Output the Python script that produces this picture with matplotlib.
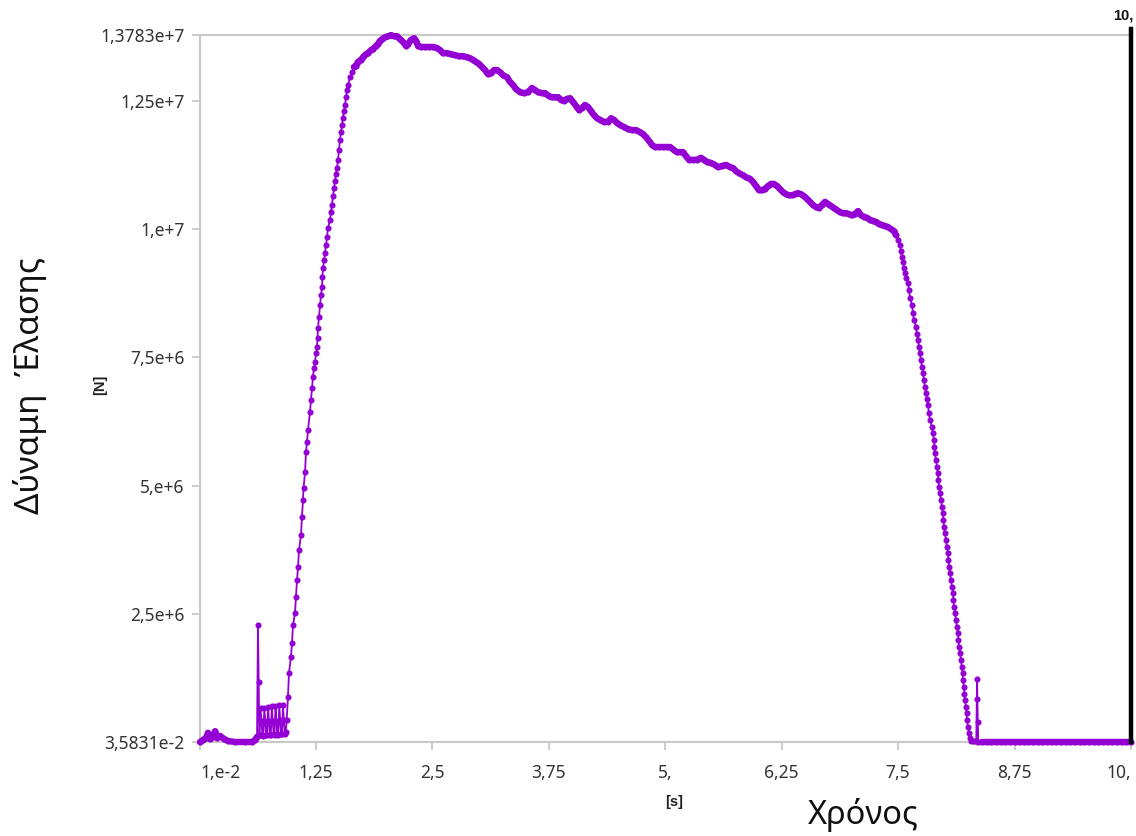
import numpy as np
import matplotlib
matplotlib.use("Agg")
import matplotlib.pyplot as plt
from matplotlib.ticker import FixedLocator, FixedFormatter

# ---- measured tensile force vs. time (force in MN) ----
start_t = [0.010, 0.042, 0.074, 0.096, 0.117, 0.149, 0.171, 0.192, 0.225, 0.268,
           0.310, 0.386, 0.493, 0.568, 0.600, 0.622]
start_f = [0.00, 0.04, 0.08, 0.18, 0.06, 0.10, 0.21, 0.08, 0.12, 0.06,
           0.02, 0.00, 0.00, 0.00, 0.04, 0.10]

chatter_t = [0.632, 0.640, 0.645,
             0.65, 0.66, 0.67, 0.68, 0.69, 0.70, 0.71, 0.72, 0.73, 0.74,
             0.75, 0.76, 0.77, 0.78, 0.79, 0.80, 0.81, 0.82, 0.83, 0.84,
             0.85, 0.86, 0.87, 0.88, 0.89, 0.90, 0.91, 0.92, 0.93, 0.94]
chatter_f = [2.28, 1.17, 0.14,
             0.14, 0.66, 0.40, 0.13, 0.12, 0.67, 0.40, 0.14, 0.13, 0.68,
             0.40, 0.14, 0.13, 0.70, 0.41, 0.15, 0.14, 0.71, 0.41, 0.15,
             0.14, 0.72, 0.42, 0.15, 0.15, 0.73, 0.42, 0.16, 0.20, 0.43]

rise_t = [0.954, 0.965, 0.986, 0.997, 1.008, 1.029, 1.040, 1.051, 1.062, 1.072,
          1.094, 1.104, 1.115, 1.121, 1.137, 1.147, 1.158, 1.169, 1.190, 1.201,
          1.212, 1.222, 1.233, 1.244, 1.255, 1.265, 1.271, 1.276, 1.287, 1.298,
          1.308, 1.319, 1.324, 1.330, 1.341, 1.351, 1.362, 1.373, 1.383, 1.405,
          1.416, 1.426, 1.437, 1.448, 1.459, 1.469, 1.480, 1.491, 1.501, 1.512,
          1.523, 1.534, 1.544, 1.555, 1.566, 1.577, 1.587, 1.598, 1.620, 1.641]
rise_f = [0.88, 1.35, 1.66, 1.93, 2.28, 2.51, 2.83, 3.16, 3.41, 3.74,
          4.04, 4.39, 4.72, 4.95, 5.26, 5.65, 5.85, 6.08, 6.43, 6.67,
          6.90, 7.12, 7.29, 7.41, 7.58, 7.70, 7.88, 8.07, 8.29, 8.52,
          8.71, 8.87, 9.07, 9.24, 9.40, 9.53, 9.69, 9.84, 10.02, 10.18,
          10.33, 10.47, 10.64, 10.80, 10.94, 11.07, 11.19, 11.35, 11.54, 11.74,
          11.89, 12.03, 12.16, 12.30, 12.42, 12.57, 12.71, 12.81, 12.96, 13.06]

plateau_t = [1.662, 1.684, 1.705, 1.738, 1.759, 1.791, 1.813, 1.845, 1.866, 1.898,
             1.920, 1.941, 1.963, 1.995, 2.027, 2.059, 2.092, 2.124, 2.156, 2.188,
             2.220, 2.242, 2.274, 2.306, 2.328, 2.349, 2.381, 2.424, 2.467, 2.510,
             2.553, 2.585, 2.617, 2.660, 2.703, 2.746, 2.789, 2.832, 2.875, 2.907,
             2.939, 2.972, 3.004, 3.036, 3.068, 3.100, 3.132, 3.165, 3.197, 3.229,
             3.261, 3.304, 3.336, 3.368, 3.400, 3.444, 3.486, 3.530, 3.572, 3.605,
             3.637, 3.680, 3.712, 3.755, 3.787, 3.819, 3.851, 3.884, 3.916, 3.948,
             3.980, 4.012, 4.044, 4.077, 4.109, 4.141, 4.173, 4.206, 4.238, 4.270,
             4.302, 4.345, 4.388, 4.420, 4.452, 4.484, 4.517, 4.560, 4.602, 4.645,
             4.688, 4.731, 4.764, 4.796, 4.828, 4.860, 4.892, 4.935, 4.978, 5.021,
             5.053, 5.096, 5.128, 5.160, 5.193, 5.225, 5.257, 5.300, 5.343, 5.386,
             5.418, 5.450, 5.493, 5.536, 5.568, 5.611, 5.654, 5.697, 5.729, 5.761,
             5.793, 5.836, 5.869, 5.912, 5.944, 5.976, 6.008, 6.040, 6.072, 6.105,
             6.137, 6.169, 6.201, 6.233, 6.265, 6.298, 6.330, 6.362, 6.394, 6.426,
             6.458, 6.491, 6.523, 6.555, 6.587, 6.619, 6.652, 6.684, 6.716, 6.748,
             6.781, 6.813, 6.845, 6.877, 6.909, 6.942, 6.974, 7.006, 7.038, 7.070,
             7.103, 7.135, 7.167, 7.199, 7.231, 7.264, 7.296, 7.328, 7.360, 7.392,
             7.424, 7.457, 7.478]
plateau_f = [13.16, 13.18, 13.26, 13.30, 13.35, 13.41, 13.43, 13.49, 13.51, 13.57,
             13.61, 13.67, 13.70, 13.74, 13.76, 13.78, 13.76, 13.76, 13.70, 13.65,
             13.57, 13.61, 13.69, 13.72, 13.67, 13.57, 13.55, 13.55, 13.55, 13.55,
             13.53, 13.49, 13.43, 13.43, 13.41, 13.39, 13.37, 13.37, 13.35, 13.33,
             13.30, 13.26, 13.22, 13.16, 13.10, 13.02, 13.04, 13.10, 13.10, 13.06,
             13.00, 12.96, 12.87, 12.81, 12.73, 12.67, 12.65, 12.67, 12.75, 12.71,
             12.67, 12.65, 12.65, 12.59, 12.57, 12.57, 12.57, 12.52, 12.50, 12.54,
             12.55, 12.48, 12.40, 12.32, 12.36, 12.42, 12.38, 12.30, 12.22, 12.16,
             12.13, 12.09, 12.09, 12.16, 12.13, 12.07, 12.03, 11.99, 11.95, 11.93,
             11.93, 11.89, 11.85, 11.79, 11.72, 11.64, 11.60, 11.60, 11.60, 11.60,
             11.60, 11.54, 11.50, 11.50, 11.50, 11.42, 11.35, 11.35, 11.35, 11.39,
             11.35, 11.31, 11.29, 11.25, 11.21, 11.23, 11.25, 11.21, 11.19, 11.13,
             11.09, 11.05, 11.01, 10.98, 10.92, 10.84, 10.76, 10.76, 10.78, 10.84,
             10.88, 10.88, 10.84, 10.78, 10.72, 10.68, 10.66, 10.66, 10.68, 10.70,
             10.68, 10.64, 10.59, 10.53, 10.47, 10.43, 10.41, 10.47, 10.53, 10.49,
             10.45, 10.41, 10.37, 10.33, 10.31, 10.31, 10.29, 10.27, 10.29, 10.35,
             10.27, 10.24, 10.22, 10.18, 10.16, 10.14, 10.10, 10.08, 10.06, 10.04,
             10.00, 9.96, 9.88]

fall_t = [7.500, 7.521, 7.532, 7.543, 7.554, 7.564, 7.575, 7.586, 7.607, 7.618,
          7.628, 7.650, 7.660, 7.671, 7.693, 7.703, 7.714, 7.725, 7.735, 7.746,
          7.757, 7.768, 7.778, 7.789, 7.800, 7.811, 7.821, 7.832, 7.843, 7.864,
          7.875, 7.886, 7.891, 7.896, 7.907, 7.918, 7.929, 7.934, 7.939, 7.950,
          7.961, 7.971, 7.982, 7.987, 7.993, 8.004, 8.014, 8.025, 8.036, 8.041,
          8.047, 8.057, 8.068, 8.079, 8.090, 8.095, 8.100, 8.111, 8.122, 8.132,
          8.143, 8.149, 8.154, 8.165, 8.175, 8.186, 8.192, 8.197, 8.208, 8.213,
          8.219, 8.229, 8.235, 8.240, 8.251, 8.262, 8.272, 8.283, 8.304, 8.326,
          8.340, 8.348, 8.352, 8.356, 8.362]
fall_f = [9.79, 9.69, 9.57, 9.46, 9.36, 9.24, 9.14, 9.05, 8.95, 8.81,
          8.66, 8.52, 8.36, 8.23, 8.09, 7.95, 7.84, 7.70, 7.58, 7.45,
          7.31, 7.19, 7.06, 6.92, 6.80, 6.69, 6.57, 6.41, 6.28, 6.14,
          6.02, 5.89, 5.75, 5.63, 5.50, 5.36, 5.24, 5.11, 4.97, 4.85,
          4.72, 4.58, 4.46, 4.33, 4.19, 4.07, 3.94, 3.80, 3.68, 3.55,
          3.41, 3.29, 3.16, 3.02, 2.90, 2.77, 2.63, 2.51, 2.38, 2.24,
          2.12, 1.99, 1.85, 1.74, 1.60, 1.46, 1.35, 1.21, 1.07, 0.94,
          0.82, 0.68, 0.57, 0.43, 0.29, 0.18, 0.08, 0.02, 0.02, 0.02,
          0.02, 1.23, 0.84, 0.39, 0.00]

tail_t = [8.40, 8.45, 8.50, 8.55, 8.60, 8.65, 8.70, 8.75, 8.80, 8.85,
          8.90, 8.95, 9.00, 9.05, 9.10, 9.15, 9.20, 9.25, 9.30, 9.35,
          9.40, 9.45, 9.50, 9.55, 9.60, 9.65, 9.70, 9.75, 9.80, 9.85,
          9.90, 9.95, 10.00]
tail_f = [0.00] * len(tail_t)

x_ticks = [0.01, 1.25, 2.5, 3.75, 5.0, 6.25, 7.5, 8.75, 10.0]
x_labels = ["1,e-2", "1,25", "2,5", "3,75", "5,", "6,25", "7,5", "8,75", "10,"]
y_ticks = [0.035831, 2.5e6, 5e6, 7.5e6, 1e7, 1.25e7, 1.3783e7]
y_labels = ["3,5831e-2", "2,5e+6", "5,e+6", "7,5e+6", "1,e+7", "1,25e+7", "1,3783e+7"]

MN = 1e6
time_s = np.concatenate([start_t, chatter_t, rise_t, plateau_t, fall_t, tail_t])
force_n = np.concatenate([start_f, chatter_f, rise_f, plateau_f, fall_f, tail_f]) * MN

plt.rcParams["font.family"] = ["Noto Sans", "DejaVu Sans"]
bold_family = ["Liberation Sans", "DejaVu Sans"]

fig = plt.figure(figsize=(11.36, 8.36), dpi=100)
ax = fig.add_axes([200 / 1136, 1 - 742 / 836, 931 / 1136, 707 / 836])

purple = "#9400D3"
# densely sampled stretches render as a solid band of overlapping markers
for seg_t, seg_f in ((start_t, start_f), (plateau_t, plateau_f), (tail_t, tail_f)):
    ax.plot(seg_t, np.asarray(seg_f) * MN, "-", color=purple, lw=4.6,
            solid_capstyle="round", solid_joinstyle="round", clip_on=False, zorder=3)
ax.plot(time_s, force_n, "-o", color=purple, lw=1.3, ms=4.4,
        markeredgewidth=0, clip_on=False, zorder=3)

ax.set_xlim(0.01, 10.0)
ax.set_ylim(0.035831, 1.3783e7)

grey = "#c8c8c8"
for side in ("left", "bottom", "top"):
    ax.spines[side].set_color(grey)
    ax.spines[side].set_linewidth(1.5)
ax.spines["right"].set_visible(False)

ax.xaxis.set_major_locator(FixedLocator(x_ticks))
ax.xaxis.set_major_formatter(FixedFormatter(x_labels))
ax.yaxis.set_major_locator(FixedLocator(y_ticks))
ax.yaxis.set_major_formatter(FixedFormatter(y_labels))
ax.tick_params(axis="both", colors=grey, length=6, width=1.3, labelsize=12.5,
               labelcolor="#333333", pad=5)
ax.tick_params(axis="x", pad=10)
xlbls = ax.get_xticklabels()
xlbls[0].set_horizontalalignment("left")
xlbls[-1].set_horizontalalignment("right")

# cursor at the end of the record
ax.axvline(10.0, ymin=0.0, ymax=1.008, color="black", lw=3.2, clip_on=False, zorder=4)
fig.text(1134 / 1136, 1 - 16 / 836, "10,", ha="right", va="center",
         fontsize=10.5, fontweight="bold", color="#111111", family=bold_family)

ax.text(0.5095, -0.085, "[s]", transform=ax.transAxes, ha="center", va="center",
        fontsize=10.5, fontweight="bold", color="#222222", family=bold_family)
ax.text(-0.107, 0.505, "[N]", transform=ax.transAxes, ha="center", va="center",
        rotation=90, fontsize=10.5, fontweight="bold", color="#222222",
        family=bold_family)

fig.text(863 / 1136, 1 - 815 / 836, "Χρόνος", ha="center", va="center",
         fontsize=23.5, color="#111111")
fig.text(30 / 1136, 1 - 385 / 836, "Δύναμη  Έλασης", ha="center", va="center",
         rotation=90, fontsize=24, color="#111111")

fig.savefig("out.png", dpi=100, facecolor="white")
